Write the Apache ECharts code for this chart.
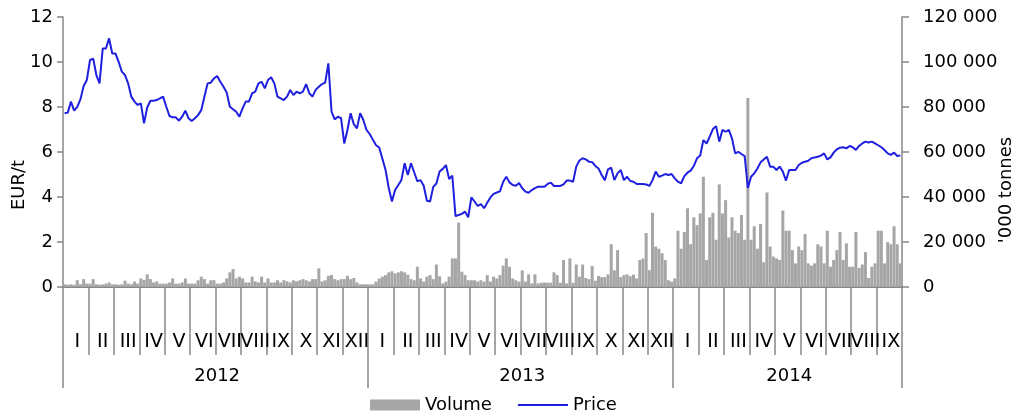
<!DOCTYPE html>
<html>
<head>
<meta charset="utf-8">
<script src="https://cdn.jsdelivr.net/npm/echarts@6/dist/echarts.min.js"></script>
<style>
  html, body { margin: 0; padding: 0; background: #fff; }
  #chart { width: 1013px; height: 417px; }
</style>
</head>
<body>
<div id="chart"></div>
<script>
  // month and year labels of the x axis
  var months = ['I', 'II', 'III', 'IV', 'V', 'VI', 'VII', 'VIII', 'IX', 'X', 'XI', 'XII']
  var years = ['2012', '2013', '2014']
  var monthsInYear = [12, 12, 9]
  var perMonth = 8   // readings per month

  // price, EUR/t (8 readings per month)
  var price2012 = [
    7.72, 7.75, 8.24, 7.84, 8.01, 8.35, 8.93, 9.2,
    10.09, 10.15, 9.42, 9.05, 10.6, 10.6, 11.05, 10.38,
    10.38, 10.01, 9.57, 9.42, 9.05, 8.46, 8.24, 8.09,
    8.16, 7.27, 7.98, 8.28, 8.28, 8.31, 8.38, 8.46,
    8.01, 7.6, 7.54, 7.54, 7.39, 7.57, 7.84, 7.5,
    7.38, 7.5, 7.64, 7.86, 8.46, 9.05, 9.08, 9.27,
    9.38, 9.12, 8.9, 8.65, 8.01, 7.9, 7.79, 7.57,
    7.94, 8.24, 8.24, 8.61, 8.68, 9.05, 9.12, 8.83,
    9.2, 9.32, 9.05, 8.46, 8.38, 8.31, 8.46, 8.76,
    8.53, 8.68, 8.61, 8.68, 9.02, 8.61, 8.46, 8.76,
    8.9, 9.02, 9.08, 9.94, 7.79, 7.45, 7.57, 7.5,
    6.38, 6.98, 7.72, 7.24, 7.05, 7.72, 7.42, 6.98
  ]
  var price2013 = [
    6.8, 6.55, 6.3, 6.2, 5.7, 5.2, 4.4, 3.8,
    4.31, 4.53, 4.76, 5.5, 4.98, 5.5, 5.1, 4.7,
    4.75, 4.5, 3.83, 3.8, 4.45, 4.6, 5.13, 5.25,
    5.42, 4.8, 4.95, 3.15, 3.2, 3.25, 3.35, 3.1,
    3.98, 3.8, 3.6, 3.68, 3.5, 3.75, 3.98, 4.14,
    4.2, 4.25, 4.68, 4.9, 4.65, 4.53, 4.5, 4.62,
    4.39, 4.24, 4.19, 4.31, 4.39, 4.46, 4.46, 4.46,
    4.58, 4.64, 4.49, 4.49, 4.49, 4.56, 4.73, 4.73,
    4.68, 5.35, 5.62, 5.72, 5.67, 5.57, 5.55, 5.38,
    5.27, 4.98, 4.75, 5.23, 5.3, 4.75, 5.05, 5.2,
    4.75, 4.9, 4.71, 4.68, 4.58, 4.58, 4.58, 4.56,
    4.49, 4.75, 5.13, 4.9, 4.95, 5.02, 4.98, 5.02
  ]
  var price2014 = [
    4.83, 4.68, 4.61, 4.93, 5.08, 5.17, 5.38, 5.72,
    5.84, 6.53, 6.38, 6.68, 7.02, 7.15, 6.46, 6.98,
    6.9, 6.98, 6.61, 5.94, 6.01, 5.91, 5.82, 4.4,
    4.9, 5.05, 5.27, 5.54, 5.67, 5.79, 5.35, 5.35,
    5.2, 5.35, 5.13, 4.73, 5.2, 5.2, 5.2, 5.42,
    5.52, 5.57, 5.61, 5.72, 5.76, 5.79, 5.84, 5.94,
    5.67, 5.76, 5.97, 6.12, 6.19, 6.21, 6.16, 6.27,
    6.21, 6.09, 6.27, 6.38, 6.46, 6.42, 6.46, 6.38,
    6.3, 6.21, 6.09, 5.94, 5.87, 5.97, 5.82, 5.85
  ]

  // volume, '000 tonnes
  var volume2012 = [
    1200, 1000, 1200, 1000, 3000, 1200, 3500, 1500,
    1500, 3500, 1200, 1000, 1200, 1500, 2000, 1200,
    1200, 1000, 1200, 2800, 1500, 1200, 2400, 1500,
    3800, 3200, 5600, 3500, 2000, 2500, 1500, 1500,
    1500, 2000, 3800, 1500, 1500, 2000, 3800, 1500,
    1500, 1500, 3000, 4600, 3500, 1500, 3000, 3000,
    1500, 1500, 2000, 3800, 6500, 8000, 3800, 4600,
    3800, 2000, 2000, 4600, 2500, 2000, 4600, 2000,
    3800, 2000, 2000, 3000, 2000, 3000, 2500, 2000,
    3000, 2500, 3000, 3500, 3000, 2500, 3500, 3500,
    8300, 2500, 3000, 5000, 5300, 3500, 3000, 3500,
    3500, 5000, 3500, 4000, 2000, 1200, 1200, 1200
  ]
  var volume2013 = [
    1200, 1200, 2400, 3800, 4600, 5300, 6500, 7000,
    6000, 6500, 7000, 6500, 5500, 3500, 3000, 9000,
    3800, 2400, 4600, 5300, 3500, 10000, 4800, 1600,
    2400, 4600, 12700, 12700, 28600, 6800, 5300, 3000,
    3000, 3000, 2400, 3000, 2400, 5300, 2400, 4600,
    3800, 5300, 9500, 12700, 9000, 3800, 3000, 2400,
    7400, 2400, 5600, 1600, 5600, 1600, 1900, 2000,
    1900, 1900, 6500, 5300, 1900, 12000, 1600, 12700,
    1900, 10000, 4600, 10000, 4000, 3500, 9300, 2800,
    4900, 4400, 4400, 5600, 19000, 7400, 16400, 4400,
    5300, 5600, 4800, 5500, 3800, 12000, 12700, 24000,
    7500, 33000, 18000, 17000, 15000, 12000, 3000, 2400
  ]
  var volume2014 = [
    3800, 25000, 17000, 24500, 35000, 19000, 31000, 27500,
    32700, 49000, 12000, 31000, 33000, 21000, 45600, 32700,
    38600, 22000, 31000, 25000, 24000, 32000, 21000, 84000,
    21000, 27000, 17000, 28000, 11000, 42000, 18000, 13500,
    12700, 12000, 34000, 25000, 25000, 16400, 10500, 18000,
    16400, 23500, 10500, 9500, 10500, 19000, 18000, 10500,
    25000, 9000, 12000, 16400, 24500, 12000, 19400, 9000,
    9000, 24500, 8500, 10000, 15500, 4000, 9000, 10500,
    25000, 25000, 10500, 20000, 19000, 27000, 19000, 10500
  ]

  var price = price2012.concat(price2013, price2014)
  var volume = volume2012.concat(volume2013, volume2014)

  // categories: "year month reading"
  var cats = []
  var yearStarts = []
  var yearCenters = []
  years.forEach(function (y, yi) {
    yearStarts.push(cats.length)
    yearCenters.push(cats.length + monthsInYear[yi] * perMonth / 2)
    for (var m = 0; m < monthsInYear[yi]; m++) {
      for (var j = 0; j < perMonth; j++) {
        cats.push(y + ' ' + months[m] + ' ' + (j + 1))
      }
    }
  })

  var axisColor = '#878787'
  var font = 'DejaVu Sans'
  var axisLine = { show: true, lineStyle: { color: axisColor, width: 1.5 } }

  function spaced(v) {
    return String(v).replace(/\B(?=(\d{3})+(?!\d))/g, ' ')
  }

  var chart = echarts.init(document.getElementById('chart'))
  chart.setOption({
    animation: false,
    textStyle: { fontFamily: font },
    grid: { left: 63, right: 111, top: 17, bottom: 130, outerBoundsMode: 'none', containLabel: false },
    legend: {
      left: 370,
      top: 396,
      padding: 0,
      itemWidth: 50,
      itemHeight: 11,
      itemGap: 25,
      textStyle: { fontSize: 18, color: '#000', fontFamily: font },
      data: [
        { name: 'Volume', icon: 'rect' },
        { name: 'Price', itemStyle: { opacity: 0 } }
      ]
    },
    xAxis: [
      {
        type: 'category',
        data: cats,
        position: 'bottom',
        axisLine: axisLine,
        axisTick: { show: false },
        axisLabel: { show: false }
      },
      {
        // months
        type: 'category',
        data: cats,
        position: 'bottom',
        axisLine: axisLine,
        axisTick: {
          show: true,
          length: 68,
          interval: function (i) { return i % perMonth === 0 },
          lineStyle: { color: axisColor, width: 1.5 }
        },
        axisLabel: {
          interval: function (i) { return i % perMonth === perMonth / 2 },
          formatter: function (v) { return v.split(' ')[1] },
          margin: 46,
          fontSize: 19,
          color: '#000',
          fontFamily: font
        }
      },
      {
        // years
        type: 'category',
        data: cats,
        position: 'bottom',
        axisLine: axisLine,
        axisTick: {
          show: true,
          length: 101,
          interval: function (i) { return yearStarts.indexOf(i) >= 0 },
          lineStyle: { color: axisColor, width: 1.5 }
        },
        axisLabel: {
          interval: function (i) { return yearCenters.indexOf(i) >= 0 },
          formatter: function (v) { return v.split(' ')[0] },
          margin: 80,
          fontSize: 18,
          color: '#000',
          fontFamily: font
        }
      }
    ],
    yAxis: [
      {
        type: 'value',
        min: 0,
        max: 12,
        interval: 2,
        name: 'EUR/t',
        nameLocation: 'middle',
        nameRotate: 90,
        nameGap: 35,
        nameMoveOverlap: false,
        nameTextStyle: { fontSize: 18, color: '#000', fontFamily: font, padding: [0, 66, 0, 0] },
        axisLine: axisLine,
        axisTick: { show: true, length: 6, lineStyle: { color: axisColor, width: 1.5 } },
        splitLine: { show: false },
        axisLabel: { fontSize: 18, color: '#000', margin: 10, fontFamily: font }
      },
      {
        type: 'value',
        position: 'right',
        min: 0,
        max: 120000,
        interval: 20000,
        name: "'000 tonnes",
        nameLocation: 'middle',
        nameRotate: 90,
        nameGap: 95,
        nameMoveOverlap: false,
        nameTextStyle: { fontSize: 18, color: '#000', fontFamily: font, padding: [0, 76, 0, 0] },
        axisLine: axisLine,
        axisTick: { show: true, length: 7, lineStyle: { color: axisColor, width: 1.5 } },
        splitLine: { show: false },
        axisLabel: { fontSize: 18, color: '#000', margin: 21, fontFamily: font, formatter: spaced }
      }
    ],
    series: [
      {
        name: 'Volume',
        type: 'bar',
        xAxisIndex: 0,
        yAxisIndex: 1,
        data: volume,
        barCategoryGap: '5%',
        itemStyle: { color: '#a6a6a6' }
      },
      {
        name: 'Price',
        type: 'line',
        xAxisIndex: 0,
        yAxisIndex: 0,
        data: price,
        symbol: 'none',
        lineStyle: { color: '#1f1fe0', width: 2 },
        itemStyle: { color: '#1f1fe0' }
      }
    ]
  })
</script>
</body>
</html>
